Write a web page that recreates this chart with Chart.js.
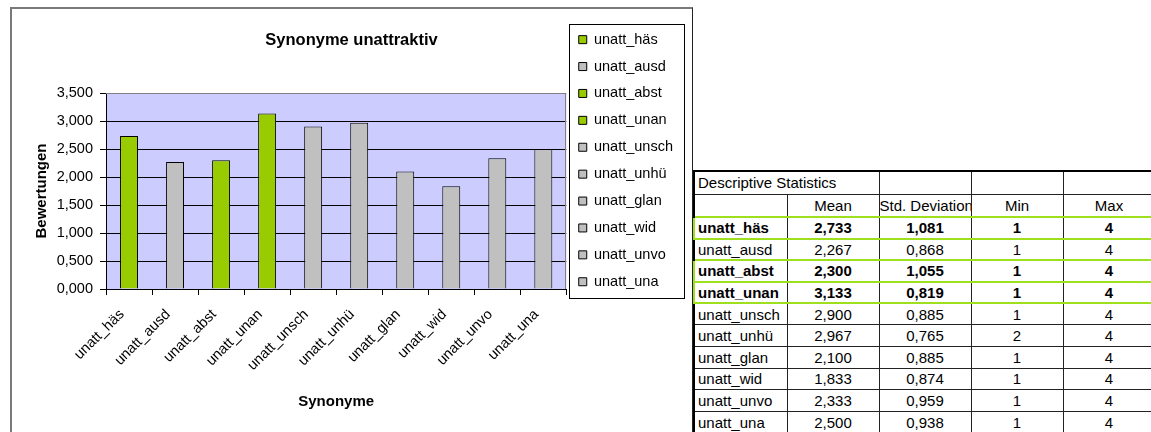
<!DOCTYPE html>
<html lang="de">
<head>
<meta charset="utf-8">
<title>Synonyme unattraktiv</title>
<script src="https://cdn.jsdelivr.net/npm/chart.js@4.4.0/dist/chart.umd.min.js"></script>
<style>
  body { margin: 0; width: 1151px; height: 432px; overflow: hidden; background: #fff; }
  #frame { position: absolute; left: 10px; top: 7px; width: 680px; height: 500px;
           border-left: 2px solid #7a7a7a; border-top: 2px solid #7a7a7a; border-right: 1px solid #222; }
  #chartBox { position: absolute; left: 12px; top: 9px; width: 680px; height: 423px; }
  #stats { position: absolute; left: 693px; top: 170px; border-collapse: collapse; table-layout: fixed;
           width: 461px; font: 15px "Liberation Sans", Arial, sans-serif; color: #000; }
  #stats td { border: 1px solid #222; padding: 0; text-align: center; vertical-align: middle;
              white-space: nowrap; overflow: hidden; }
  #stats td:first-child { text-align: left; padding-left: 3px; border-left: 2px solid #000; }
  #stats thead tr { height: 23px; }
  #stats thead tr:first-child td { border-top: 2px solid #000; }
  #stats tbody tr { height: 21.6px; }
  #stats tr.hl td { font-weight: bold; border-top: 2px solid #9ee01e; border-bottom: 2px solid #9ee01e; }
  #stats tr.hl td:first-child { border-left: 2px solid #9ee01e; }
</style>
</head>
<body>
<div id="frame"></div>
<div id="chartBox"><canvas id="chart" width="680" height="423"></canvas></div>

<table id="stats">
  <colgroup><col style="width:93px"><col style="width:92px"><col style="width:92px"><col style="width:92px"><col style="width:92px"></colgroup>
  <thead>
    <tr><td colspan="2">Descriptive Statistics</td><td></td><td></td><td></td></tr>
    <tr><td></td><td>Mean</td><td>Std. Deviation</td><td>Min</td><td>Max</td></tr>
  </thead>
  <tbody></tbody>
</table>

<script>
// Werte aus der Tabelle "Descriptive Statistics"
const synonyme = ['unatt_häs', 'unatt_ausd', 'unatt_abst', 'unatt_unan', 'unatt_unsch',
                  'unatt_unhü', 'unatt_glan', 'unatt_wid', 'unatt_unvo', 'unatt_una'];
const mittelwerte = [2.733, 2.267, 2.300, 3.133, 2.900, 2.967, 2.100, 1.833, 2.333, 2.500];
const standardabw = [1.081, 0.868, 1.055, 0.819, 0.885, 0.765, 0.885, 0.874, 0.959, 0.938];
const minima = [1, 1, 1, 1, 1, 2, 1, 1, 1, 1];
const maxima = [4, 4, 4, 4, 4, 4, 4, 4, 4, 4];
// die grün markierten Synonyme
const markiert = [true, false, true, true, false, false, false, false, false, false];
const yTicks = [0, 0.5, 1, 1.5, 2, 2.5, 3, 3.5];

const schrift = "'Liberation Sans', Arial, sans-serif";
const gruen = '#99cc00';
const grau = '#c0c0c0';

function fmt3(v) {
    return Number(v).toFixed(3).replace('.', ',');
}

function barColor(i) {
    return markiert[i] ? gruen : grau;
}

// Tabelle rechts
const tbody = document.querySelector('#stats tbody');
synonyme.forEach((name, i) => {
    const tr = document.createElement('tr');
    if (markiert[i]) tr.className = 'hl';
    [name, fmt3(mittelwerte[i]), fmt3(standardabw[i]), minima[i], maxima[i]].forEach(v => {
        const td = document.createElement('td');
        td.textContent = v;
        tr.appendChild(td);
    });
    tbody.appendChild(tr);
});

// Zeichenfläche im Excel-Stil: lila Hintergrund, grauer Rahmen, Legende mit Kasten
const plotArea = {
    id: 'plotArea',
    beforeDraw(chart) {
        const {ctx, chartArea: a} = chart;
        ctx.save();
        ctx.fillStyle = '#ccccff';
        ctx.fillRect(a.left, a.top, a.width, a.height);
        ctx.restore();
    },
    beforeDatasetsDraw(chart) {
        const {ctx, chartArea: a} = chart;
        ctx.save();
        ctx.strokeStyle = '#808080';
        ctx.lineWidth = 1;
        ctx.beginPath();
        ctx.moveTo(a.left, Math.round(a.top) + 0.5);
        ctx.lineTo(Math.round(a.right) - 0.5, Math.round(a.top) + 0.5);
        ctx.lineTo(Math.round(a.right) - 0.5, a.bottom);
        ctx.stroke();
        ctx.restore();
    },
    afterDraw(chart) {
        const hb = chart.legend.legendHitBoxes;
        if (!hb || !hb.length) return;
        const last = hb[hb.length - 1];
        const x = Math.round(hb[0].left - 10) + 0.5;
        const y = Math.round(hb[0].top - 8) + 0.5;
        const bottom = Math.round(last.top + last.height + 9) + 0.5;
        const ctx = chart.ctx;
        ctx.save();
        ctx.strokeStyle = '#000';
        ctx.lineWidth = 1;
        ctx.strokeRect(x, y, 115, bottom - y);
        ctx.restore();
    }
};

new Chart(document.getElementById('chart'), {
    type: 'bar',
    data: {
        labels: synonyme,
        datasets: [{
            label: 'Mean',
            data: mittelwerte,
            backgroundColor: synonyme.map((s, i) => barColor(i)),
            borderColor: '#000',
            borderWidth: 1,
            categoryPercentage: 1,
            barPercentage: 0.39
        }]
    },
    plugins: [plotArea],
    options: {
        responsive: false,
        animation: false,
        devicePixelRatio: 1,
        layout: { padding: { left: 8, right: 9, top: 11, bottom: 0 } },
        plugins: {
            title: {
                display: true,
                text: 'Synonyme unattraktiv',
                color: '#000',
                font: { family: schrift, size: 16.5, weight: 'bold' },
                padding: { top: 10.6, bottom: 42.6 }
            },
            legend: {
                position: 'right',
                align: 'start',
                onClick: null,
                labels: {
                    boxWidth: 8,
                    boxHeight: 8,
                    padding: 12.4,
                    color: '#000',
                    font: { family: schrift, size: 14.5 },
                    generateLabels: () => synonyme.map((s, i) => ({
                        text: s,
                        fillStyle: barColor(i),
                        strokeStyle: '#000',
                        lineWidth: 1,
                        hidden: false,
                        index: i,
                        datasetIndex: 0
                    }))
                }
            },
            tooltip: { enabled: false }
        },
        scales: {
            x: {
                grid: { offset: true, drawOnChartArea: false, tickLength: 6, color: '#000' },
                border: { color: '#000', width: 1 },
                ticks: {
                    autoSkip: false,
                    minRotation: 45,
                    maxRotation: 45,
                    padding: 11,
                    labelOffset: -7,
                    color: '#000',
                    font: { family: schrift, size: 14.5 }
                },
                title: {
                    display: true,
                    text: 'Synonyme',
                    color: '#000',
                    font: { family: schrift, size: 15, weight: 'bold' },
                    padding: { top: 0, bottom: 21 }
                },
                afterFit: s => { s.height = 143; }
            },
            y: {
                min: 0,
                max: 3.5,
                afterBuildTicks: s => { s.ticks = yTicks.map(v => ({ value: v })); },
                grid: {
                    color: c => (c.tick && c.tick.value === 3.5) ? '#808080' : '#000',
                    tickColor: '#000',
                    tickLength: 6
                },
                border: { color: '#000', width: 1 },
                ticks: {
                    callback: v => fmt3(v),
                    padding: 7,
                    color: '#000',
                    font: { family: schrift, size: 14.5 }
                },
                title: {
                    display: true,
                    text: 'Bewertungen',
                    color: '#000',
                    font: { family: schrift, size: 15, weight: 'bold' },
                    padding: { top: 13, bottom: 0 }
                },
                afterFit: s => { s.width = 86; }
            }
        }
    }
});
</script>
</body>
</html>
